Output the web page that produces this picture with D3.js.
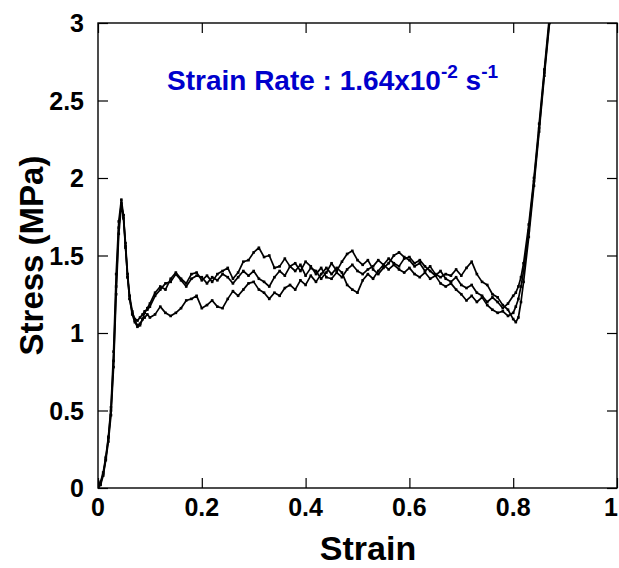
<!DOCTYPE html>
<html>
<head>
<meta charset="utf-8">
<script src="https://cdn.jsdelivr.net/npm/d3@7"></script>
<style>
  html, body { margin: 0; padding: 0; background: #fff; }
  svg text { font-family: Arial, "Liberation Sans", sans-serif; font-weight: bold; }
</style>
</head>
<body>
<div id="chart"></div>
<script>
// ----- Data -----
const strainRise = [0, 0.005, 0.01, 0.015, 0.02, 0.025, 0.03, 0.035, 0.04, 0.045,
  0.049, 0.053, 0.057, 0.061, 0.066, 0.071, 0.076, 0.081, 0.086, 0.09, 0.095];

const strainPlateau = [0.10, 0.11, 0.12, 0.13, 0.14, 0.15, 0.16, 0.17, 0.18, 0.19,
  0.20, 0.21, 0.22, 0.23, 0.24, 0.25, 0.26, 0.27, 0.28, 0.29,
  0.30, 0.31, 0.32, 0.33, 0.34, 0.35, 0.36, 0.37, 0.38, 0.39,
  0.40, 0.41, 0.42, 0.43, 0.44, 0.45, 0.46, 0.47, 0.48, 0.49,
  0.50, 0.51, 0.52, 0.53, 0.54, 0.55, 0.56, 0.57, 0.58, 0.59,
  0.60, 0.61, 0.62, 0.63, 0.64, 0.65, 0.66, 0.67, 0.68, 0.69,
  0.70, 0.71, 0.72, 0.73, 0.74, 0.75, 0.76, 0.77, 0.78, 0.79];

const strainHard = [0.80, 0.805, 0.81, 0.815, 0.82, 0.83, 0.84, 0.85, 0.86, 0.87];

const stressA = [
  // rise + yield drop
  0, 0.04, 0.10, 0.20, 0.33, 0.52, 0.88, 1.38, 1.72, 1.86,
  1.76, 1.56, 1.36, 1.22, 1.12, 1.07, 1.04, 1.05, 1.09, 1.13, 1.16,
  // plateau
  1.19, 1.26, 1.30, 1.28, 1.35, 1.39, 1.35, 1.32, 1.38, 1.39,
  1.34, 1.37, 1.33, 1.38, 1.40, 1.42, 1.35, 1.39, 1.46, 1.47,
  1.52, 1.55, 1.49, 1.50, 1.42, 1.43, 1.48, 1.43, 1.40, 1.44,
  1.37, 1.42, 1.40, 1.35, 1.39, 1.45, 1.40, 1.46, 1.51, 1.53,
  1.47, 1.44, 1.47, 1.41, 1.38, 1.42, 1.45, 1.50, 1.52, 1.49,
  1.47, 1.43, 1.45, 1.40, 1.43, 1.38, 1.36, 1.38, 1.37, 1.41,
  1.37, 1.42, 1.46, 1.38, 1.33, 1.31, 1.25, 1.23, 1.18, 1.15,
  // densification
  1.09, 1.07, 1.10, 1.20, 1.33, 1.62, 1.95, 2.30, 2.66, 3.00
];

const stressB = [
  0, 0.03, 0.09, 0.19, 0.32, 0.50, 0.82, 1.30, 1.68, 1.84,
  1.74, 1.55, 1.36, 1.22, 1.13, 1.09, 1.08, 1.10, 1.12, 1.14, 1.15,
  1.17, 1.24, 1.28, 1.32, 1.33, 1.38, 1.34, 1.30, 1.35, 1.37,
  1.36, 1.32, 1.36, 1.34, 1.38, 1.36, 1.32, 1.36, 1.40, 1.37,
  1.40, 1.35, 1.33, 1.30, 1.36, 1.40, 1.37, 1.43, 1.45, 1.40,
  1.46, 1.43, 1.38, 1.42, 1.36, 1.35, 1.39, 1.36, 1.41, 1.44,
  1.40, 1.38, 1.41, 1.43, 1.47, 1.44, 1.48, 1.45, 1.43, 1.48,
  1.49, 1.45, 1.47, 1.43, 1.40, 1.37, 1.40, 1.35, 1.33, 1.36,
  1.31, 1.29, 1.31, 1.26, 1.24, 1.20, 1.23, 1.20, 1.16, 1.19,
  1.24, 1.26, 1.30, 1.36, 1.45, 1.70, 2.00, 2.35, 2.70, 3.05
];

const stressC = [
  0, 0.02, 0.08, 0.18, 0.30, 0.47, 0.78, 1.25, 1.64, 1.82,
  1.76, 1.58, 1.38, 1.24, 1.14, 1.08, 1.05, 1.06, 1.09, 1.10, 1.12,
  1.10, 1.12, 1.17, 1.13, 1.11, 1.13, 1.16, 1.21, 1.22, 1.24,
  1.16, 1.18, 1.21, 1.17, 1.16, 1.22, 1.27, 1.24, 1.28, 1.32,
  1.33, 1.28, 1.26, 1.22, 1.26, 1.24, 1.29, 1.31, 1.28, 1.34,
  1.31, 1.37, 1.33, 1.38, 1.42, 1.38, 1.42, 1.39, 1.31, 1.28,
  1.26, 1.34, 1.38, 1.35, 1.40, 1.44, 1.41, 1.44, 1.41, 1.39,
  1.42, 1.38, 1.36, 1.39, 1.35, 1.37, 1.32, 1.30, 1.32, 1.28,
  1.25, 1.21, 1.24, 1.20, 1.23, 1.18, 1.15, 1.13, 1.14, 1.11,
  1.13, 1.17, 1.22, 1.30, 1.40, 1.66, 1.98, 2.32, 2.68, 3.02
];

const xTicks = [0, 0.2, 0.4, 0.6, 0.8, 1];
const yTicks = [0, 0.5, 1, 1.5, 2, 2.5, 3];
const xTickLabels = ["0", "0.2", "0.4", "0.6", "0.8", "1"];
const yTickLabels = ["0", "0.5", "1", "1.5", "2", "2.5", "3"];

// ----- Layout -----
const width  = 619;
const height = 568;
const margin = { top: 23, right: 2, bottom: 80, left: 98 };
const innerWidth  = width  - margin.left - margin.right;
const innerHeight = height - margin.top  - margin.bottom;

const svg = d3.select("#chart")
  .append("svg")
  .attr("width", width)
  .attr("height", height);

const g = svg.append("g")
  .attr("transform", `translate(${margin.left},${margin.top})`);

const x = d3.scaleLinear().domain([0, 1]).range([0, innerWidth]);
const y = d3.scaleLinear().domain([0, 3]).range([innerHeight, 0]);

svg.append("defs").append("clipPath")
  .attr("id", "plot-clip")
  .append("rect")
  .attr("width", innerWidth)
  .attr("height", innerHeight);

// ----- Curves -----
const strainAll = strainRise.concat(strainPlateau, strainHard);
const curves = [stressA, stressB, stressC].map(s =>
  strainAll.map((e, i) => ({ strain: e, stress: s[i] }))
);

const line = d3.line()
  .x(d => x(d.strain))
  .y(d => y(d.stress));

const plot = g.append("g").attr("clip-path", "url(#plot-clip)");

curves.forEach(data => {
  plot.append("path")
    .datum(data)
    .attr("fill", "none")
    .attr("stroke", "#000")
    .attr("stroke-width", 1.7)
    .attr("stroke-linejoin", "round")
    .attr("d", line);

  plot.selectAll(null)
    .data(data)
    .enter()
    .append("rect")
    .attr("x", d => x(d.strain) - 1.3)
    .attr("y", d => y(d.stress) - 1.3)
    .attr("width", 2.6)
    .attr("height", 2.6)
    .attr("fill", "#000");
});

// ----- Ticks (inward on all four sides, labels drawn separately) -----
const tickLen = 10;
const noLabel = a => a.call(s => s.select(".domain").remove())
  .call(s => s.selectAll("text").remove());

g.append("g")
  .attr("transform", `translate(0,${innerHeight})`)
  .call(d3.axisBottom(x).tickValues(xTicks).tickSizeInner(-tickLen).tickSizeOuter(0))
  .call(noLabel);

g.append("g")
  .call(d3.axisTop(x).tickValues(xTicks).tickSizeInner(-tickLen).tickSizeOuter(0))
  .call(noLabel);

g.append("g")
  .call(d3.axisLeft(y).tickValues(yTicks).tickSizeInner(-tickLen).tickSizeOuter(0))
  .call(noLabel);

g.append("g")
  .attr("transform", `translate(${innerWidth},0)`)
  .call(d3.axisRight(y).tickValues(yTicks).tickSizeInner(-tickLen).tickSizeOuter(0))
  .call(noLabel);

g.selectAll(".tick line").attr("stroke", "#000").attr("stroke-width", 1.2);

// tick labels
g.selectAll(".x-label")
  .data(xTicks)
  .enter()
  .append("text")
  .attr("class", "x-label")
  .attr("x", (d, i) => x(d) + (i === xTicks.length - 1 ? -6 : 0))
  .attr("y", innerHeight + 28)
  .attr("text-anchor", "middle")
  .attr("font-size", 25)
  .attr("fill", "#000")
  .text((d, i) => xTickLabels[i]);

g.selectAll(".y-label")
  .data(yTicks)
  .enter()
  .append("text")
  .attr("class", "y-label")
  .attr("x", -14)
  .attr("y", d => y(d) + 9)
  .attr("text-anchor", "end")
  .attr("font-size", 25)
  .attr("fill", "#000")
  .text((d, i) => yTickLabels[i]);

// frame
g.append("rect")
  .attr("width", innerWidth)
  .attr("height", innerHeight)
  .attr("fill", "none")
  .attr("stroke", "#000")
  .attr("stroke-width", 1.4);

// ----- Axis titles -----
svg.append("text")
  .attr("x", 368)
  .attr("y", 560)
  .attr("text-anchor", "middle")
  .attr("font-size", 34)
  .attr("fill", "#000")
  .text("Strain");

svg.append("text")
  .attr("transform", `translate(43,${margin.top + innerHeight / 2}) rotate(-90)`)
  .attr("text-anchor", "middle")
  .attr("font-size", 33)
  .attr("fill", "#000")
  .text("Stress (MPa)");

// ----- Annotation -----
const note = svg.append("text")
  .attr("x", 167)
  .attr("y", 90)
  .attr("font-size", 28)
  .attr("fill", "#0000CC");

note.append("tspan").text("Strain Rate : 1.64x10");
note.append("tspan").attr("dy", -12).attr("font-size", 19).text("-2");
note.append("tspan").attr("dy", 12).text(" s");
note.append("tspan").attr("dy", -12).attr("font-size", 19).text("-1");
</script>
</body>
</html>
